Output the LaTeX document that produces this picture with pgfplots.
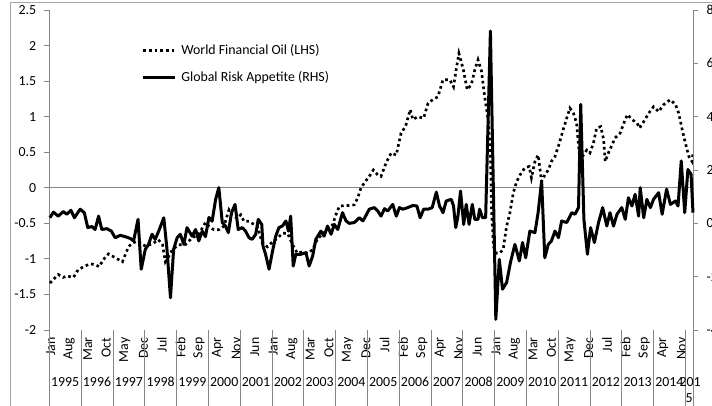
\documentclass[border=0pt]{standalone}
\usepackage{pgfplots}
\pgfplotsset{compat=1.18}
\usepackage{fontspec}
\setmainfont{Carlito}
\definecolor{axisgray}{HTML}{868686}
\definecolor{bordergray}{HTML}{A6A6A6}
\newcommand{\cf}{\fontsize{10.4pt}{12.5pt}\selectfont}
\begin{document}
\begin{tikzpicture}
\cf
\pgfplotsset{
  every axis/.append style={
    scale only axis, width=483pt, height=240pt,
    at={(0pt,0pt)}, anchor=south west,
    xmin=1995, xmax=2015.25,
    clip=false,
    tick align=outside, major tick length=3.75pt,
    axis line style={-, draw=axisgray, line width=0.6pt},
    tick style={draw=axisgray, line width=0.6pt},
    ticklabel style={font=\cf, text=black},
    /pgf/number format/assume math mode=true,
  }
}
% ---------------- Left axis: World Financial Oil ----------------
\begin{axis}[
  axis x line*=bottom, axis y line*=left,
  x axis line style={draw=none},
  ymin=-2, ymax=2.5,
  ytick={-2,-1.5,-1,-0.5,0,0.5,1,1.5,2,2.5},
  yticklabel shift=2.5pt,
  xtick={1995.0417,1995.625,1996.2083,1996.7917,1997.375,1997.9583,1998.5417,1999.125,1999.7083,2000.2917,2000.875,2001.4583,
         2002.0417,2002.625,2003.2083,2003.7917,2004.375,2004.9583,2005.5417,2006.125,2006.7083,2007.2917,2007.875,2008.4583,
         2009.0417,2009.625,2010.2083,2010.7917,2011.375,2011.9583,2012.5417,2013.125,2013.7083,2014.2917,2014.875},
  xticklabels={Jan,Aug,Mar,Oct,May,Dec,Jul,Feb,Sep,Apr,Nov,Jun,
               Jan,Aug,Mar,Oct,May,Dec,Jul,Feb,Sep,Apr,Nov,Jun,
               Jan,Aug,Mar,Oct,May,Dec,Jul,Feb,Sep,Apr,Nov},
  xtick style={draw=none},
  xticklabel style={rotate=90, anchor=east},
  xticklabel shift=-1.8pt,
]
\draw[axisgray, line width=0.6pt] (axis cs:1995,0) -- (axis cs:2015.25,0);
\pgfplotsinvokeforeach{1995,1996,1997,1998,1999,2000,2001,2002,2003,2004,2005,2006,2007,2008,2009,2010,2011,2012,2013,2014,2015,2015.25}{
  \draw[axisgray, line width=0.6pt] (axis cs:#1,-2) -- ([yshift=-62pt]axis cs:#1,-2);
}
\addplot[black, line width=2pt, dash pattern=on 2pt off 2.3pt] coordinates {
(1995.02,-1.34) (1995.28,-1.22) (1995.44,-1.26) (1995.55,-1.24) (1995.76,-1.26) (1995.91,-1.15)
(1996.13,-1.10) (1996.28,-1.07) (1996.44,-1.08) (1996.57,-1.11) (1996.70,-1.01) (1996.86,-0.93)
(1997.02,-0.97) (1997.18,-1.01) (1997.30,-1.04) (1997.39,-0.94) (1997.49,-0.83) (1997.60,-0.78)
(1997.78,-0.75) (1998.02,-0.82) (1998.24,-0.79) (1998.43,-0.73) (1998.56,-0.80) (1998.65,-1.04)
(1998.75,-0.97) (1998.87,-0.87) (1999.07,-0.80) (1999.28,-0.80) (1999.50,-0.70) (1999.69,-0.66)
(1999.91,-0.49) (2000.02,-0.54) (2000.17,-0.59) (2000.33,-0.59) (2000.49,-0.54) (2000.65,-0.31)
(2000.75,-0.38) (2000.91,-0.43) (2001.02,-0.38) (2001.12,-0.47) (2001.28,-0.47) (2001.38,-0.50)
(2001.54,-0.54) (2001.70,-0.78) (2001.86,-0.83) (2002.02,-0.76) (2002.17,-0.71) (2002.33,-0.64)
(2002.49,-0.64) (2002.65,-0.80) (2002.80,-0.92) (2002.96,-0.90) (2003.12,-0.92) (2003.28,-0.87)
(2003.44,-0.71) (2003.59,-0.66) (2003.75,-0.57) (2003.91,-0.52) (2004.01,-0.38) (2004.12,-0.26)
(2004.27,-0.25) (2004.43,-0.25) (2004.59,-0.24) (2004.70,-0.14) (2004.80,0.00) (2004.94,0.09)
(2005.06,0.16) (2005.19,0.25) (2005.33,0.18) (2005.43,0.16) (2005.59,0.35) (2005.75,0.49)
(2005.91,0.46) (2006.06,0.77) (2006.20,0.86) (2006.35,1.10) (2006.43,0.96) (2006.59,1.00)
(2006.77,0.98) (2006.91,1.19) (2007.06,1.24) (2007.22,1.28) (2007.38,1.52) (2007.59,1.52)
(2007.71,1.42) (2007.80,1.68) (2007.88,1.89) (2008.01,1.68) (2008.14,1.38) (2008.27,1.45)
(2008.38,1.66) (2008.48,1.80) (2008.59,1.64) (2008.69,1.28) (2008.80,0.96) (2008.87,0.49)
(2008.91,-0.36) (2008.97,-0.83) (2009.06,-0.92) (2009.16,-0.92) (2009.27,-0.87) (2009.38,-0.54)
(2009.48,-0.36) (2009.59,-0.07) (2009.69,0.08) (2009.80,0.18) (2009.95,0.28) (2010.09,0.30)
(2010.16,0.14) (2010.27,0.37) (2010.37,0.46) (2010.48,0.09) (2010.58,0.18) (2010.69,0.25)
(2010.79,0.37) (2010.90,0.44) (2011.04,0.63) (2011.16,0.82) (2011.27,0.98) (2011.37,1.12)
(2011.48,1.05) (2011.58,0.91) (2011.69,0.35) (2011.79,0.46) (2011.90,0.53) (2012.00,0.49)
(2012.11,0.63) (2012.21,0.84) (2012.34,0.86) (2012.43,0.68) (2012.48,0.37) (2012.58,0.49)
(2012.69,0.60) (2012.79,0.70) (2012.95,0.77) (2013.11,0.96) (2013.18,1.03) (2013.32,0.96)
(2013.48,0.91) (2013.56,0.84) (2013.69,0.93) (2013.85,1.05) (2014.00,1.14) (2014.16,1.07)
(2014.32,1.17) (2014.53,1.24) (2014.69,1.17) (2014.79,1.05) (2014.90,0.82) (2015.00,0.63)
(2015.11,0.44) (2015.21,0.37) (2015.24,0.49)
};
\end{axis}
% ---------------- Right axis: Global Risk Appetite ----------------
\begin{axis}[
  axis x line=none, axis y line*=right,
  ymin=-4, ymax=8,
  ytick={-4,-2,0,2,4,6,8},
  yticklabel shift=2.5pt,
  legend style={at={(0.143,0.898)}, anchor=north west, draw=none, fill=none,
    inner sep=0pt, row sep=9pt, column sep=2.5pt, font=\cf,
    nodes={inner sep=1pt}},
  legend cell align=left,
  legend image code/.code={\draw[#1] (0pt,0pt) -- (24pt,0pt);},
]
\pgfplotsinvokeforeach{1995,1996,1997,1998,1999,2000,2001,2002,2003,2004,2005,2006,2007,2008,2009,2010,2011,2012,2013,2014}{
  \node[font=\cf] at ([yshift=-39pt]axis cs:#1.5,-4) {#1};
}
\node[font=\cf] at ([yshift=-39pt]axis cs:2015.15,-4) {201};
\node[font=\cf] at ([yshift=-51pt]axis cs:2015.12,-4) {5};
\addlegendimage{black, line width=2pt, dash pattern=on 2pt off 2.3pt}
\addlegendentry{World Financial Oil (LHS)}
\addplot[black, line width=2.25pt, line join=round] coordinates {
(1995.02,0.21) (1995.13,0.42) (1995.28,0.27) (1995.44,0.44) (1995.55,0.34) (1995.68,0.49)
(1995.79,0.21) (1995.97,0.53) (1996.10,0.40) (1996.21,-0.16) (1996.34,-0.12) (1996.44,-0.23)
(1996.55,0.27) (1996.65,-0.23) (1996.81,-0.20) (1996.95,-0.29) (1997.07,-0.54) (1997.23,-0.45)
(1997.39,-0.50) (1997.55,-0.57) (1997.65,-0.66) (1997.79,0.15) (1997.89,-1.72) (1998.02,-0.97)
(1998.12,-0.79) (1998.23,-0.41) (1998.33,-0.60) (1998.44,-0.29) (1998.60,0.21) (1998.70,-0.97)
(1998.81,-2.79) (1998.91,-0.97) (1999.02,-0.54) (1999.12,-0.41) (1999.23,-0.79) (1999.33,-0.16)
(1999.49,-0.48) (1999.60,-0.23) (1999.70,-0.66) (1999.81,-0.29) (1999.91,-0.50) (2000.02,0.22)
(2000.12,0.08) (2000.23,0.90) (2000.33,1.34) (2000.44,0.03) (2000.54,-0.10) (2000.63,-0.35)
(2000.73,0.40) (2000.84,0.71) (2000.94,-0.23) (2001.07,-0.16) (2001.17,-0.29) (2001.28,-0.54)
(2001.38,-0.60) (2001.49,-0.41) (2001.57,0.15) (2001.68,-0.04) (2001.72,-0.85) (2001.80,-1.16)
(2001.91,-1.72) (2002.02,-1.04) (2002.12,-0.48) (2002.22,-0.16) (2002.33,-0.10) (2002.44,0.09)
(2002.52,-0.29) (2002.59,0.27) (2002.67,-1.60) (2002.75,-1.16) (2002.91,-1.16) (2003.07,-1.10)
(2003.17,-1.60) (2003.28,-1.23) (2003.38,-0.60) (2003.54,-0.29) (2003.64,-0.48) (2003.75,-0.10)
(2003.86,-0.41) (2003.96,-0.04) (2004.07,-0.23) (2004.22,0.40) (2004.33,0.09) (2004.43,0.00)
(2004.59,0.03) (2004.75,0.21) (2004.86,0.09) (2004.96,0.30) (2005.06,0.53) (2005.22,0.59)
(2005.33,0.46) (2005.43,0.27) (2005.54,0.55) (2005.64,0.46) (2005.80,0.71) (2005.91,0.27)
(2006.01,0.59) (2006.12,0.53) (2006.27,0.59) (2006.43,0.67) (2006.56,0.65) (2006.66,0.21)
(2006.77,0.53) (2006.91,0.53) (2007.04,0.59) (2007.17,1.17) (2007.27,0.65) (2007.38,0.40)
(2007.48,0.84) (2007.64,0.90) (2007.71,0.65) (2007.78,-0.16) (2007.85,0.27) (2007.93,1.21)
(2008.03,-0.04) (2008.11,0.71) (2008.20,-0.04) (2008.30,0.71) (2008.38,0.15) (2008.48,0.15)
(2008.53,0.53) (2008.62,0.21) (2008.72,0.21) (2008.87,7.21) (2009.04,-3.60) (2009.15,-1.35)
(2009.25,-2.47) (2009.38,-2.22) (2009.50,-1.47) (2009.64,-0.79) (2009.78,-1.41) (2009.88,-0.72)
(2009.98,-1.29) (2010.11,-0.29) (2010.27,-0.35) (2010.37,0.40) (2010.48,1.59) (2010.58,-1.29)
(2010.69,-0.79) (2010.79,-0.66) (2010.90,-0.29) (2011.01,-0.54) (2011.11,0.09) (2011.27,0.03)
(2011.43,0.40) (2011.53,0.34) (2011.64,0.59) (2011.71,4.46) (2011.81,0.15) (2011.92,-1.16)
(2012.02,-0.16) (2012.14,-0.72) (2012.27,0.03) (2012.40,0.59) (2012.53,-0.10) (2012.63,0.40)
(2012.74,-0.10) (2012.85,0.34) (2013.00,0.59) (2013.11,0.15) (2013.21,0.96) (2013.32,0.65)
(2013.42,1.09) (2013.53,0.27) (2013.58,1.34) (2013.69,0.21) (2013.79,0.90) (2013.90,0.59)
(2014.00,0.90) (2014.16,1.15) (2014.27,0.34) (2014.41,1.28) (2014.53,0.71) (2014.69,0.84)
(2014.77,0.65) (2014.87,2.34) (2014.98,0.40) (2015.08,2.02) (2015.18,1.84) (2015.24,0.40)
};
\addlegendentry{Global Risk Appetite (RHS)}
\end{axis}
\draw[bordergray, line width=0.6pt] (-29.475pt,-70pt) -- (-29.475pt,246pt) -- (520pt,246pt);
\pgfresetboundingbox
\useasboundingbox (-36.975pt,-56.25pt) rectangle (497.025pt,247.5pt);
\end{tikzpicture}
\end{document}
